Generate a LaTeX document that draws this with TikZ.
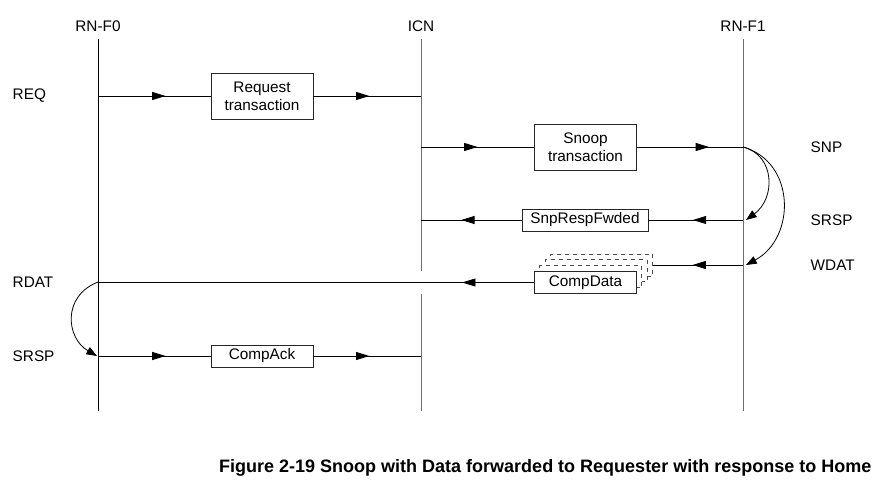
\documentclass[tikz,border=0pt]{standalone}
\usepackage{fontspec}
\setmainfont{Liberation Sans}
\usetikzlibrary{arrows.meta,decorations.markings}
\definecolor{LIFE}{HTML}{6E6E6E}

\begin{document}
\begin{tikzpicture}[x=0.75pt,y=-0.75pt,
        font=\fontsize{11.5}{13.5}\selectfont,
        msgbox/.style={draw=black!85,line width=0.6pt,fill=white,inner sep=1pt,
            minimum width=76.5pt,minimum height=16.5pt,align=center},
        stackbox/.style={msgbox,dashed,draw=black!70},
        tri/.style={-{Triangle[length=8pt,width=6pt]}},
        midtip/.style={postaction={decorate},decoration={markings,
            mark=at position #1 with {\arrow{Triangle[length=10pt,width=6pt]}}}},
        msg/.style={line width=0.6pt}]
    \useasboundingbox (0,0) rectangle (891,485);

    % lifelines
    \node (f0) at (98,26) {RN-F0};
    \node (icn) at (421,26) {ICN};
    \node (f1) at (743,26) {RN-F1};
    \draw[line width=0.75pt] (98,39) -- (98,411);
    \draw[LIFE, line width=0.75pt] (421,39) -- (421,271);
    \draw[LIFE, line width=0.75pt] (421,294) -- (421,411);
    \draw[LIFE, line width=0.75pt] (743,39) -- (743,411);

    % channel names
    \node[anchor=west] (lreq) at (8,96) {REQ};
    \node[anchor=west] (lrdat) at (8,282) {RDAT};
    \node[anchor=west] (lsrsp) at (8,356) {SRSP};
    \node[anchor=west] (rsnp) at (806,147) {SNP};
    \node[anchor=west] (rsrsp) at (806,220) {SRSP};
    \node[anchor=west] (rwdat) at (806,265) {WDAT};

    % message boxes
    \node[msgbox, minimum height=34.5pt] (reqbox) at (262,96) {Request\\transaction};
    \node[msgbox, minimum height=34.5pt] (snpbox) at (585.5,147) {Snoop\\transaction};
    \node[msgbox, minimum width=94.5pt] (fwdbox) at (585,220) {SnpRespFwded};
    \node[stackbox] (back) at (601.5,265) {\phantom{CompData}};
    \node[stackbox] (mid) at (596,270.5) {\phantom{CompData}};
    \node[stackbox] (near) at (590.5,276.5) {\phantom{CompData}};
    \node[msgbox] (data) at (585.5,282.5) {CompData};
    \node[msgbox] (ackbox) at (262,356) {CompAck};

    % REQ
    \draw[msg, midtip=0.6] (f0 |- reqbox) -- (reqbox);
    \draw[msg, midtip=0.52] (reqbox) -- (icn |- reqbox);
    % SNP
    \draw[msg, midtip=0.5] (icn |- snpbox) -- (snpbox);
    \draw[msg, midtip=0.68] (snpbox) -- (f1 |- snpbox);
    % SRSP from RN-F1
    \draw[msg, midtip=0.53] (f1 |- fwdbox) -- (fwdbox);
    \draw[msg, midtip=0.6] (fwdbox) -- (icn |- fwdbox);
    % WDAT / RDAT
    \draw[msg, midtip=0.56] (f1 |- back) -- (back);
    \draw[msg, midtip=0.165] (data) -- (f0 |- data);
    % CompAck
    \draw[msg, midtip=0.6] (f0 |- ackbox) -- (ackbox);
    \draw[msg, midtip=0.52] (ackbox) -- (icn |- ackbox);

    % dependencies
    \coordinate (snpin) at (743,147);
    \coordinate (srspout) at (746,220);
    \coordinate (wdatout) at (746,265);
    \coordinate (rdatin) at (98,282);
    \coordinate (ackout) at (97,356);
    \draw[msg, tri] (snpin) .. controls (775,155) and (776,198) .. (srspout);
    \draw[msg, tri] (snpin) .. controls (796,162) and (796,238) .. (wdatout);
    \draw[msg, tri] (rdatin) .. controls (62,296) and (66,338) .. (ackout);

    \node[anchor=east, font=\bfseries\fontsize{13.5}{15}\selectfont] (cap) at (876,468)
        {Figure 2-19 Snoop with Data forwarded to Requester with response to Home};
\end{tikzpicture}
\end{document}
